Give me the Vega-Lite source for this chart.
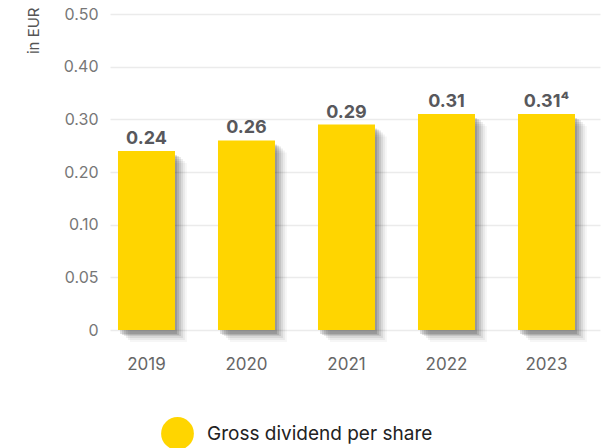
{
  "$schema": "https://vega.github.io/schema/vega-lite/v6.json",
  "width": 490,
  "height": 316,
  "autosize": "none",
  "padding": {"left": 110, "top": 14, "right": 1, "bottom": 118},
  "background": "white",
  "config": {"view": {"stroke": null}, "font": "Inter"},
  "data": {
    "values": [
      {"year": "2019", "value": 0.24, "label": "0.24"},
      {"year": "2020", "value": 0.26, "label": "0.26"},
      {"year": "2021", "value": 0.29, "label": "0.29"},
      {"year": "2022", "value": 0.31, "label": "0.31"},
      {"year": "2023", "value": 0.31, "label": "0.31⁴"}
    ]
  },
  "encoding": {
    "x": {
      "field": "year",
      "type": "ordinal",
      "scale": {"paddingInner": 0.43, "paddingOuter": 0.165, "align": 0.242},
      "axis": {
        "title": null,
        "labelAngle": 0,
        "domain": false,
        "ticks": false,
        "grid": false,
        "labelFontSize": 17,
        "labelColor": "#666666",
        "labelPadding": 26
      }
    },
    "y": {
      "field": "value",
      "type": "quantitative",
      "scale": {
        "domain": [0, 0.05, 0.1, 0.2, 0.3, 0.4, 0.5],
        "range": [316, 263.33, 210.67, 158, 105.33, 52.67, 0],
        "nice": false,
        "zero": false
      },
      "axis": {
        "values": [0, 0.05, 0.1, 0.2, 0.3, 0.4, 0.5],
        "labelExpr": "datum.value == 0 ? '0' : format(datum.value, '.2f')",
        "title": "in EUR",
        "titleFontSize": 15,
        "titleFontWeight": "normal",
        "titleColor": "#555555",
        "titleAngle": -90,
        "titleAlign": "right",
        "titleBaseline": "middle",
        "titleX": -77,
        "titleY": -7,
        "domain": false,
        "ticks": false,
        "labelPadding": 12,
        "labelFontSize": 16,
        "labelColor": "#777777",
        "gridColor": "#ebebeb",
        "gridWidth": 1.5
      }
    }
  },
  "layer": [
    {"mark": {"type": "bar", "color": "#000000", "opacity": 0.035, "xOffset": 12, "yOffset": 12, "y2Offset": 14}},
    {"mark": {"type": "bar", "color": "#000000", "opacity": 0.05, "xOffset": 10, "yOffset": 10, "y2Offset": 12}},
    {"mark": {"type": "bar", "color": "#000000", "opacity": 0.07, "xOffset": 8, "yOffset": 8, "y2Offset": 10}},
    {"mark": {"type": "bar", "color": "#000000", "opacity": 0.09, "xOffset": 6, "yOffset": 6, "y2Offset": 8}},
    {"mark": {"type": "bar", "color": "#000000", "opacity": 0.11, "xOffset": 4, "yOffset": 5, "y2Offset": 6}},
    {"mark": {"type": "bar", "color": "#000000", "opacity": 0.12, "xOffset": 2, "yOffset": 4, "y2Offset": 4}},
    {
      "mark": {"type": "bar", "opacity": 1, "y2Offset": 3},
      "encoding": {
        "color": {
          "datum": "Gross dividend per share",
          "type": "nominal",
          "scale": {"range": ["#FFD500"]},
          "legend": {
            "title": null,
            "orient": "none",
            "legendX": 51,
            "legendY": 403,
            "direction": "horizontal",
            "symbolType": "circle",
            "symbolSize": 1075,
            "symbolStrokeWidth": 0,
            "symbolOpacity": 1,
            "labelFontSize": 19,
            "labelColor": "#222222",
            "labelOffset": 13,
            "labelLimit": 400
          }
        }
      }
    },
    {
      "mark": {"type": "text", "dy": -7, "baseline": "alphabetic", "fontSize": 18, "fontWeight": "bold", "color": "#58585c"},
      "encoding": {"text": {"field": "label"}}
    }
  ]
}
